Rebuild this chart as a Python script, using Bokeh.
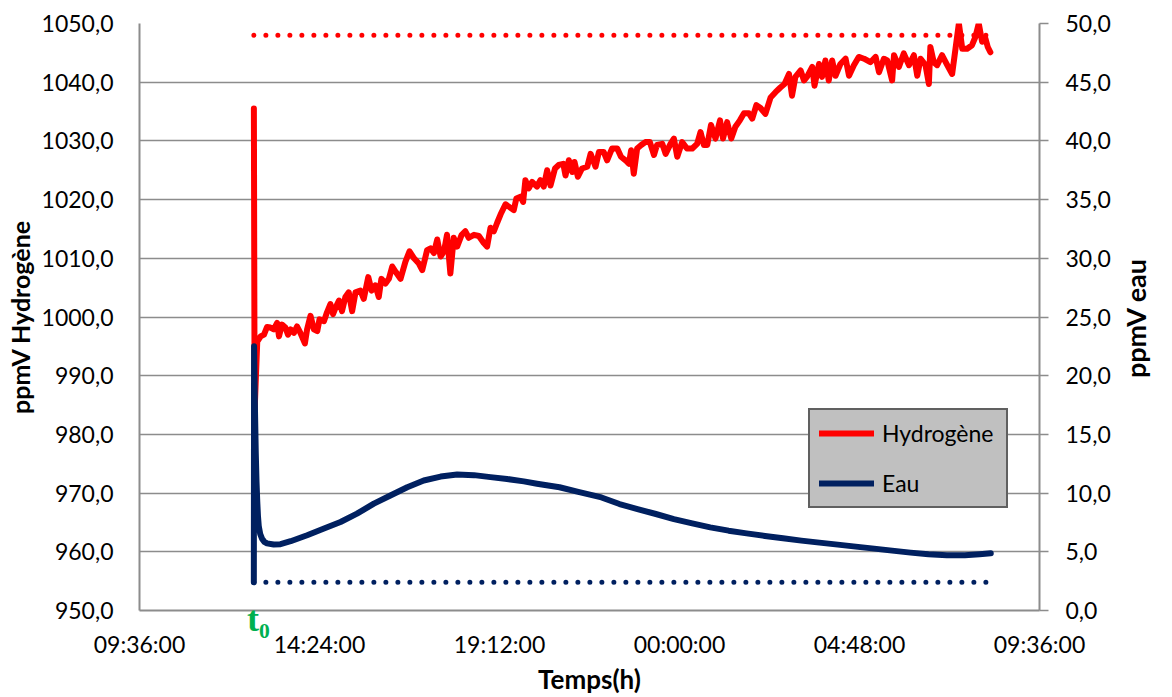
import math
from bokeh.plotting import figure
from bokeh.models import Range1d, LinearAxis, FixedTicker, Legend, LegendItem, ColumnDataSource
from bokeh.embed import file_html
from bokeh.resources import INLINE

# ---------------- data ----------------
# time in hours of day (values above 24 are on the following day)
HYD_T = [12.65, 12.67, 12.74, 12.83, 12.92, 13.00, 13.09, 13.18, 13.27, 13.32, 13.40, 13.49, 13.56, 13.63,
         13.72, 13.80, 13.89, 14.01, 14.07, 14.16, 14.25, 14.34, 14.40, 14.52, 14.60, 14.69, 14.76, 14.83,
         14.92, 15.00, 15.09, 15.18, 15.27, 15.36, 15.49, 15.58, 15.70, 15.79, 15.89, 15.98, 16.05, 16.16,
         16.25, 16.34, 16.43, 16.56, 16.69, 16.80, 16.92, 17.05, 17.14, 17.27, 17.36, 17.45, 17.54, 17.63,
         17.72, 17.80, 17.89, 17.98, 18.07, 18.19, 18.29, 18.38, 18.52, 18.65, 18.78, 18.87, 18.96, 19.05,
         19.14, 19.23, 19.36, 19.45, 19.58, 19.65, 19.76, 19.83, 19.89, 19.98, 20.07, 20.20, 20.29, 20.38,
         20.47, 20.56, 20.68, 20.78, 20.90, 20.96, 21.05, 21.14, 21.20, 21.29, 21.40, 21.54, 21.63, 21.76,
         21.85, 21.98, 22.07, 22.20, 22.34, 22.44, 22.56, 22.65, 22.71, 22.78, 22.87, 22.98, 23.09, 23.21,
         23.32, 23.40, 23.54, 23.63, 23.76, 23.85, 23.94, 24.07, 24.20, 24.34, 24.47, 24.56, 24.65, 24.74,
         24.84, 24.96, 25.08, 25.16, 25.27, 25.38, 25.49, 25.61, 25.72, 25.85, 25.94, 26.05, 26.16, 26.29,
         26.43, 26.56, 26.69, 26.80, 26.92, 27.00, 27.09, 27.23, 27.32, 27.40, 27.54, 27.60, 27.72, 27.80,
         27.89, 27.98, 28.07, 28.16, 28.29, 28.43, 28.52, 28.65, 28.78, 28.92, 29.09, 29.23, 29.32, 29.45,
         29.54, 29.67, 29.72, 29.85, 29.98, 30.12, 30.25, 30.34, 30.43, 30.56, 30.65, 30.69, 30.78, 30.87,
         31.00, 31.14, 31.27, 31.36, 31.45, 31.54, 31.67, 31.80, 31.89, 31.98, 32.07, 32.16, 32.22, 32.29]
HYD_V = [1035.5, 984.0, 995.8, 996.7, 997.0, 998.3, 998.2, 997.9, 999.0, 996.7, 998.7, 998.2, 997.0, 997.9,
         997.3, 998.4, 997.3, 995.5, 997.9, 1000.2, 997.9, 997.6, 999.6, 999.3, 1000.8, 1002.2, 1000.5, 1001.6,
         1002.8, 1001.0, 1003.4, 1004.2, 1001.0, 1004.2, 1004.5, 1003.1, 1006.8, 1004.5, 1005.4, 1003.4, 1006.5, 1005.7,
         1006.5, 1008.6, 1007.7, 1006.5, 1009.4, 1011.2, 1010.0, 1009.1, 1008.0, 1011.4, 1011.7, 1010.9, 1013.2, 1010.3,
         1011.2, 1014.0, 1007.4, 1013.5, 1012.0, 1014.0, 1014.6, 1013.5, 1014.0, 1013.8, 1012.6, 1012.0, 1015.2, 1014.6,
         1016.1, 1017.5, 1019.2, 1018.8, 1018.2, 1020.2, 1020.5, 1019.6, 1023.3, 1021.9, 1023.0, 1022.2, 1023.3, 1022.2,
         1025.0, 1022.4, 1025.3, 1025.9, 1026.1, 1024.1, 1026.7, 1024.7, 1026.4, 1023.9, 1025.3, 1025.6, 1027.8, 1025.6,
         1028.1, 1028.1, 1026.7, 1028.7, 1028.7, 1027.3, 1026.7, 1026.1, 1028.4, 1024.4, 1028.7, 1029.3, 1029.8, 1029.8,
         1027.6, 1029.3, 1029.5, 1027.8, 1029.5, 1030.4, 1027.3, 1029.8, 1028.7, 1028.7, 1029.5, 1031.5, 1029.3, 1029.3,
         1032.7, 1030.4, 1033.5, 1030.4, 1033.2, 1030.4, 1032.4, 1033.5, 1034.7, 1034.7, 1033.8, 1036.1, 1035.6, 1034.6,
         1037.4, 1038.3, 1039.1, 1039.7, 1041.4, 1037.7, 1040.9, 1042.0, 1040.3, 1040.9, 1042.6, 1039.4, 1043.1, 1040.9,
         1043.7, 1040.3, 1043.7, 1041.1, 1043.1, 1044.0, 1041.1, 1042.9, 1044.3, 1044.0, 1043.4, 1044.3, 1041.7, 1044.0,
         1043.7, 1040.3, 1044.6, 1042.6, 1044.9, 1042.9, 1044.6, 1041.1, 1044.0, 1042.9, 1039.7, 1046.0, 1043.4, 1042.9,
         1044.6, 1042.9, 1041.4, 1045.7, 1050.0, 1045.7, 1045.7, 1046.3, 1047.7, 1050.0, 1046.9, 1047.4, 1046.0, 1045.1]

EAU_T = [12.649, 12.655, 12.68, 12.70, 12.72, 12.74, 12.76, 12.78, 12.82, 12.87, 12.93, 13.00, 13.18, 13.36,
         13.63, 14.07, 14.52, 14.96, 15.40, 15.85, 16.29, 16.74, 17.18, 17.63, 18.07, 18.52, 18.96, 19.40,
         19.85, 20.20, 20.80, 21.30, 21.92, 22.40, 22.88, 23.37, 23.85, 24.34, 24.82, 25.31, 25.79, 26.28,
         26.76, 27.25, 27.73, 28.22, 28.70, 29.19, 29.67, 30.16, 30.64, 31.13, 31.61, 32.00, 32.30]
EAU_V = [2.4, 22.5, 17.0, 13.5, 11.0, 9.3, 8.0, 7.2, 6.5, 6.1, 5.85, 5.72, 5.62, 5.65,
         5.90, 6.41, 6.98, 7.54, 8.25, 9.10, 9.80, 10.50, 11.07, 11.41, 11.58, 11.53, 11.36, 11.20,
         11.00, 10.80, 10.50, 10.10, 9.63, 9.07, 8.64, 8.22, 7.79, 7.42, 7.08, 6.80, 6.57, 6.35,
         6.15, 5.95, 5.78, 5.61, 5.44, 5.27, 5.10, 4.93, 4.79, 4.70, 4.70, 4.79, 4.87]

LIMIT_T = [12.65, 32.29]
HYD_LIMIT = [1048.0, 1048.0]
EAU_LIMIT = [2.4, 2.4]
T0 = 12.65
T0_TEXT = "\u00a0t\u2080"

X_TICKS_MIN = [576, 864, 1152, 1440, 1728, 2016]
X_LABELS = ["09:36:00", "14:24:00", "19:12:00", "00:00:00", "04:48:00", "09:36:00"]
H_TICKS = [950, 960, 970, 980, 990, 1000, 1010, 1020, 1030, 1040, 1050]
E_TICKS = [0, 5, 10, 15, 20, 25, 30, 35, 40, 45, 50]

SERIES_NAMES = ["Hydrogène", "Eau"]
LEFT_TITLE = "ppmV Hydrogène"
RIGHT_TITLE = "ppmV eau"
X_TITLE = "Temps(h)"
RIGHT_TITLE_ANCHOR = 19.8   # on the "eau" scale: where the rotated title text starts

# ---------------- style ----------------
RED = "#FF0000"
NAVY = "#002060"
GRID = "#8C8C8C"
GREEN = "#00B050"
FONT = "Lato"


def fr(v):
    return f"{v:.1f}".replace(".", ",")


def mins(hours):
    return [h * 60 for h in hours]


p = figure(width=1172, height=697, output_backend="svg", toolbar_location=None,
           x_range=Range1d(X_TICKS_MIN[0], X_TICKS_MIN[-1]), y_range=Range1d(H_TICKS[0], H_TICKS[-1]),
           min_border_left=139, min_border_right=133, min_border_top=23, min_border_bottom=87)
p.extra_y_ranges = {"eau": Range1d(E_TICKS[0], E_TICKS[-1])}
p.outline_line_color = None
p.background_fill_color = "white"
p.border_fill_color = "white"

# grid
p.xgrid.visible = False
p.ygrid.ticker = FixedTicker(ticks=H_TICKS)
p.ygrid.grid_line_color = GRID
p.ygrid.grid_line_width = 1.5


def style_axis(ax, standoff, tick_out=0, title_size="25px"):
    ax.axis_line_color = GRID
    ax.axis_line_width = 2
    ax.major_tick_out = tick_out
    ax.major_tick_in = 0
    ax.major_tick_line_color = GRID
    ax.major_tick_line_width = 1.5
    ax.minor_tick_out = 0
    ax.minor_tick_in = 0
    ax.major_label_standoff = standoff
    ax.major_label_text_font = FONT
    ax.major_label_text_font_size = "23px"
    ax.major_label_text_color = "black"
    ax.axis_label_text_font = FONT
    ax.axis_label_text_font_style = "bold"
    ax.axis_label_text_font_size = title_size
    ax.axis_label_text_color = "black"


def bare_axis(ax):
    ax.axis_line_color = None
    ax.major_tick_line_color = None
    ax.minor_tick_line_color = None
    ax.major_tick_out = 0
    ax.major_tick_in = 0
    ax.minor_tick_out = 0
    ax.minor_tick_in = 0


# t0 marker axis: sits right at the frame bottom and draws the visible x axis line
t0_ax = LinearAxis(ticker=FixedTicker(ticks=[T0 * 60]))
t0_ax.major_label_overrides = {T0 * 60: T0_TEXT}
bare_axis(t0_ax)
t0_ax.axis_line_color = GRID
t0_ax.axis_line_width = 2
t0_ax.major_label_standoff = -12
t0_ax.major_label_text_font = "Liberation Serif"
t0_ax.major_label_text_font_style = "bold"
t0_ax.major_label_text_font_size = "36px"
t0_ax.major_label_text_color = GREEN

# x axis (time labels), stacked under the t0 axis and pulled back up
xa = p.xaxis[0]
xa.ticker = FixedTicker(ticks=X_TICKS_MIN)
xa.major_label_overrides = {t: l for t, l in zip(X_TICKS_MIN, X_LABELS)}
style_axis(xa, -12, title_size="26px")
xa.axis_line_color = None
xa.axis_label = X_TITLE
xa.axis_label_standoff = 2
p.below = [t0_ax, xa]

# left axis
ya = p.yaxis[0]
ya.ticker = FixedTicker(ticks=H_TICKS)
ya.major_label_overrides = {t: fr(t) for t in H_TICKS}
style_axis(ya, 26)
ya.axis_label = LEFT_TITLE
ya.axis_label_standoff = 4

# right axis
ra = LinearAxis(y_range_name="eau", ticker=FixedTicker(ticks=E_TICKS))
ra.major_label_overrides = {t: fr(t) for t in E_TICKS}
style_axis(ra, 17, tick_out=9)
p.add_layout(ra, "right")

# right title, drawn as a rotated (bottom-to-top) tick label of a bare axis
rt = LinearAxis(y_range_name="eau", ticker=FixedTicker(ticks=[RIGHT_TITLE_ANCHOR]))
rt.major_label_overrides = {RIGHT_TITLE_ANCHOR: RIGHT_TITLE}
rt.major_label_orientation = math.pi / 2
bare_axis(rt)
rt.major_label_standoff = 22
rt.major_label_text_font = FONT
rt.major_label_text_font_style = "bold"
rt.major_label_text_font_size = "27px"
rt.major_label_text_color = "black"
p.add_layout(rt, "right")

# data
src_h = ColumnDataSource(dict(x=mins(HYD_T), y=HYD_V))
src_e = ColumnDataSource(dict(x=mins(EAU_T), y=EAU_V))

r_h = p.line("x", "y", source=src_h, line_color=RED, line_width=6, line_join="round", line_cap="round")
r_e = p.line("x", "y", source=src_e, y_range_name="eau", line_color=NAVY, line_width=6,
             line_join="round", line_cap="round")

p.line(mins(LIMIT_T), HYD_LIMIT, line_color=RED, line_width=5, line_dash="0 12", line_cap="round")
p.line(mins(LIMIT_T), EAU_LIMIT, y_range_name="eau", line_color=NAVY, line_width=5, line_dash="0 12",
       line_cap="round")

legend = Legend(items=[LegendItem(label=SERIES_NAMES[0], renderers=[r_h]),
                       LegendItem(label=SERIES_NAMES[1], renderers=[r_e])],
                location=(669, 102))
legend.background_fill_color = "#C0C0C0"
legend.background_fill_alpha = 1.0
legend.border_line_color = "black"
legend.border_line_width = 2
legend.padding = 9
legend.spacing = 22
legend.margin = 0
legend.glyph_width = 55
legend.glyph_height = 26
legend.label_height = 26
legend.label_width = 115
legend.label_standoff = 8
legend.label_text_font = FONT
legend.label_text_font_size = "23px"
legend.label_text_color = "black"
p.add_layout(legend)

open("out.html", "w").write(file_html(p, INLINE))
